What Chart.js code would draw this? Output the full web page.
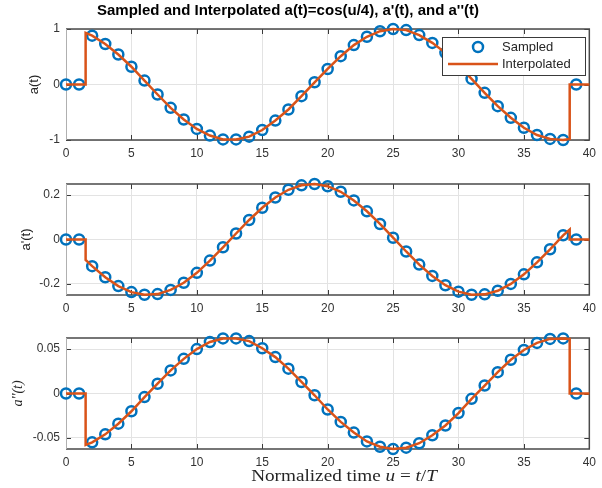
<!DOCTYPE html>
<html>
<head>
<meta charset="utf-8">
<script src="https://cdn.jsdelivr.net/npm/chart.js@4"></script>
<style>
  body { margin: 0; background: #fff; }
  #wrap { position: relative; width: 602px; height: 488px; }
  #wrap canvas { position: absolute; left: 0; top: 0; }
</style>
</head>
<body>
<div id="wrap">
  <canvas id="p1" width="602" height="488"></canvas>
  <canvas id="p2" width="602" height="488"></canvas>
  <canvas id="p3" width="602" height="488"></canvas>
</div>
<script>
// sample instants (normalized time u)
const sampleU = [0, 1, 2, 3, 4, 5, 6, 7, 8, 9, 10, 11, 12, 13, 14, 15, 16, 17, 18, 19,
                 20, 21, 22, 23, 24, 25, 26, 27, 28, 29, 30, 31, 32, 33, 34, 35, 36, 37, 38, 39];

const aSampled = [0, 0, 0.88, 0.73, 0.54, 0.32, 0.07, -0.18, -0.42, -0.63, -0.80, -0.92, -0.99, -0.99,
                  -0.94, -0.82, -0.65, -0.45, -0.21, 0.04, 0.28, 0.51, 0.71, 0.86, 0.96, 1.00, 0.98,
                  0.89, 0.75, 0.57, 0.35, 0.10, -0.15, -0.39, -0.60, -0.78, -0.91, -0.98, -1.00, 0];
const daSampled = [0, 0, -0.120, -0.170, -0.210, -0.237, -0.249, -0.246, -0.227, -0.195, -0.150, -0.095,
                   -0.035, 0.027, 0.088, 0.143, 0.189, 0.224, 0.244, 0.250, 0.240, 0.215, 0.176, 0.127,
                   0.070, 0.008, -0.054, -0.113, -0.164, -0.206, -0.235, -0.249, -0.247, -0.231, -0.200,
                   -0.157, -0.103, -0.044, 0.019, 0];
const ddaSampled = [0, 0, -0.055, -0.046, -0.034, -0.020, -0.004, 0.011, 0.026, 0.039, 0.050, 0.058,
                    0.062, 0.062, 0.059, 0.051, 0.041, 0.028, 0.013, -0.002, -0.018, -0.032, -0.044,
                    -0.054, -0.060, -0.0625, -0.061, -0.056, -0.047, -0.036, -0.022, -0.006, 0.009,
                    0.024, 0.038, 0.049, 0.057, 0.0615, 0.062, 0];

// where the interpolated curve switches on / off, and its value there
const jumpU = [1.5, 38.5];
const aEdges = [0.93, -0.98];
const daEdges = [-0.092, 0.045];
const ddaEdges = [-0.058, 0.0615];

// axis ticks
const xTicks = [0, 5, 10, 15, 20, 25, 30, 35, 40];
const aTicks = [-1, 0, 1];
const daTicks = [-0.2, 0, 0.2];
const ddaTicks = [-0.05, 0, 0.05];

const BLUE = '#0072BD';
const ORANGE = '#D95319';
const FONT = '"Liberation Sans", Arial, sans-serif';

function sampledPoints(vals) {
    return sampleU.map((u, i) => ({ x: u, y: vals[i] }));
}

function curvePoints(vals, edges) {
    const pts = [{ x: 0, y: 0 }, { x: jumpU[0], y: 0 }, { x: jumpU[0], y: edges[0] }];
    for (let i = 2; i <= 38; i++) pts.push({ x: sampleU[i], y: vals[i] });
    pts.push({ x: jumpU[1], y: edges[1] }, { x: jumpU[1], y: 0 }, { x: 40, y: 0 });
    return pts;
}

// frame, inward ticks, labels and legend drawn the MATLAB way
function decor(cfg) {
    return {
        id: 'decor',
        beforeDatasetsDraw(chart) {
            const ctx = chart.ctx;
            const a = chart.chartArea;
            const xs = chart.scales.x, ys = chart.scales.y;
            ctx.save();
            ctx.strokeStyle = '#3a3a3a';
            ctx.lineWidth = 1;
            ctx.beginPath();
            xTicks.forEach(v => {
                const px = Math.round(xs.getPixelForValue(v)) + 0.5;
                ctx.moveTo(px, a.bottom); ctx.lineTo(px, a.bottom - 5);
                ctx.moveTo(px, a.top); ctx.lineTo(px, a.top + 5);
            });
            cfg.yTicks.forEach(v => {
                const py = Math.round(ys.getPixelForValue(v)) + 0.5;
                ctx.moveTo(a.left, py); ctx.lineTo(a.left + 5, py);
                ctx.moveTo(a.right, py); ctx.lineTo(a.right - 5, py);
            });
            ctx.stroke();
            // box
            ctx.lineWidth = 1.5;
            ctx.strokeStyle = '#4a4a4a';
            ctx.beginPath();
            ctx.moveTo(a.left, a.top); ctx.lineTo(a.right, a.top); ctx.lineTo(a.right, a.bottom); ctx.lineTo(a.left, a.bottom);
            ctx.stroke();
            ctx.strokeStyle = '#b0b0b0';
            ctx.lineWidth = 1;
            ctx.beginPath();
            ctx.moveTo(a.left + 0.5, a.top); ctx.lineTo(a.left + 0.5, a.bottom);
            ctx.stroke();
            ctx.restore();
        },
        afterDraw(chart) {
            const ctx = chart.ctx;
            const a = chart.chartArea;
            ctx.save();
            ctx.fillStyle = '#262626';
            // y label
            ctx.save();
            ctx.translate(cfg.ylabelX, (a.top + a.bottom) / 2);
            ctx.rotate(-Math.PI / 2);
            ctx.textAlign = 'center';
            ctx.textBaseline = 'middle';
            ctx.font = cfg.ylabelFont || ('13px ' + FONT);
            ctx.fillText(cfg.ylabel, 0, 0);
            ctx.restore();

            if (cfg.title) {
                ctx.fillStyle = '#000';
                ctx.font = 'bold 15px ' + FONT;
                ctx.textAlign = 'center';
                ctx.textBaseline = 'middle';
                ctx.fillText(cfg.title, 288, 11);
            }

            if (cfg.legend) {
                const lx = 442, ly = 37, lw = 143, lh = 38;
                ctx.fillStyle = '#fff';
                ctx.fillRect(lx, ly, lw, lh);
                ctx.strokeStyle = '#3a3a3a';
                ctx.lineWidth = 1;
                ctx.strokeRect(lx + 0.5, ly + 0.5, lw, lh);
                ctx.strokeStyle = BLUE;
                ctx.lineWidth = 2.5;
                ctx.beginPath();
                ctx.arc(lx + 36, ly + 10, 5, 0, Math.PI * 2);
                ctx.stroke();
                ctx.strokeStyle = ORANGE;
                ctx.lineWidth = 2.5;
                ctx.beginPath();
                ctx.moveTo(lx + 6, ly + 27); ctx.lineTo(lx + 56, ly + 27);
                ctx.stroke();
                ctx.fillStyle = '#262626';
                ctx.font = '13px ' + FONT;
                ctx.textAlign = 'left';
                ctx.textBaseline = 'middle';
                ctx.fillText('Sampled', lx + 60, ly + 10);
                ctx.fillText('Interpolated', lx + 60, ly + 27);
            }

            if (cfg.xlabel) {
                const parts = [
                    ['Normalized time ', 'normal'], ['u', 'italic'], [' = ', 'normal'],
                    ['t', 'italic'], ['/', 'normal'], ['T', 'italic']
                ];
                const stretch = 1.2;
                ctx.fillStyle = '#262626';
                ctx.textBaseline = 'middle';
                ctx.textAlign = 'left';
                let total = 0;
                parts.forEach(p => {
                    ctx.font = p[1] + ' 16px "Liberation Serif", "Times New Roman", serif';
                    total += ctx.measureText(p[0]).width;
                });
                ctx.translate(344 - total * stretch / 2, 477);
                ctx.scale(stretch, 1);
                let x = 0;
                parts.forEach(p => {
                    ctx.font = p[1] + ' 16px "Liberation Serif", "Times New Roman", serif';
                    ctx.fillText(p[0], x, 0);
                    x += ctx.measureText(p[0]).width;
                });
            }
            ctx.restore();
        }
    };
}

function makePanel(id, vals, edges, yTicks, yMin, yMax, top, bottom, cfg) {
    const ctx = document.getElementById(id).getContext('2d');
    cfg.yTicks = yTicks;
    return new Chart(ctx, {
        type: 'scatter',
        data: {
            datasets: [
                {
                    label: 'Interpolated',
                    data: curvePoints(vals, edges),
                    showLine: true,
                    borderColor: ORANGE,
                    borderWidth: 2.5,
                    pointRadius: 0,
                    tension: 0,
                    order: 0,
                    clip: false
                },
                {
                    label: 'Sampled',
                    data: sampledPoints(vals),
                    showLine: false,
                    pointStyle: 'circle',
                    pointRadius: 5,
                    pointBorderWidth: 2.5,
                    pointBorderColor: BLUE,
                    pointBackgroundColor: 'rgba(0,0,0,0)',
                    order: 1,
                    clip: false
                }
            ]
        },
        options: {
            responsive: false,
            animation: false,
            devicePixelRatio: 1,
            events: [],
            layout: {
                autoPadding: false,
                padding: { left: 0, right: 3, top: top, bottom: 468 - bottom }
            },
            plugins: {
                legend: { display: false },
                tooltip: { enabled: false },
                title: { display: false }
            },
            scales: {
                x: {
                    type: 'linear',
                    min: 0,
                    max: 40,
                    afterBuildTicks: s => { s.ticks = xTicks.map(v => ({ value: v })); },
                    afterFit: s => { s.height = 20; },
                    border: { display: false },
                    grid: { color: '#e3e3e3', drawTicks: false },
                    ticks: {
                        padding: 6,
                        color: '#333',
                        font: { family: FONT, size: 12 },
                        maxRotation: 0,
                        callback: v => String(v)
                    }
                },
                y: {
                    type: 'linear',
                    min: yMin,
                    max: yMax,
                    afterBuildTicks: s => { s.ticks = yTicks.map(v => ({ value: v })); },
                    afterFit: s => { s.width = 66; },
                    border: { display: false },
                    grid: { color: '#e3e3e3', drawTicks: false },
                    ticks: {
                        padding: 6,
                        color: '#333',
                        font: { family: FONT, size: 12 },
                        callback: v => String(v)
                    }
                }
            }
        },
        plugins: [decor(cfg)]
    });
}

makePanel('p1', aSampled, aEdges, aTicks, -1, 1, 29, 140, {
    ylabel: 'a(t)', ylabelX: 34, legend: true,
    title: "Sampled and Interpolated a(t)=cos(u/4), a'(t), and a''(t)"
});
makePanel('p2', daSampled, daEdges, daTicks, -0.25, 0.25, 184, 295, {
    ylabel: "a'(t)", ylabelX: 26
});
makePanel('p3', ddaSampled, ddaEdges, ddaTicks, -0.0625, 0.0625, 338, 449, {
    ylabel: "a''(t)", ylabelX: 18, ylabelFont: 'italic 14px "Liberation Serif", serif',
    xlabel: true
});
</script>
</body>
</html>
